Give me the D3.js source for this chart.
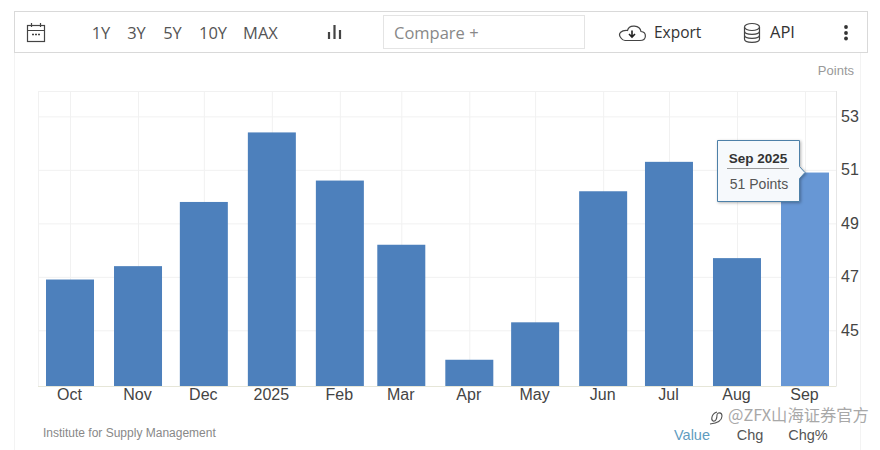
<!DOCTYPE html>
<html>
<head>
<meta charset="utf-8">
<script src="https://d3js.org/d3.v7.min.js"></script>
<style>
  html, body { margin: 0; padding: 0; background: #fff; }
  svg { display: block; }
  text { font-family: "Liberation Sans", Arial, sans-serif; }
  .btn { font-family: "Open Sans", sans-serif; font-size: 16.5px; fill: #555; }
  .domain { display: none; }
  .tick line { stroke: #f1f1f1; }
  .axis-label { font-size: 16px; fill: #444; }
</style>
</head>
<body>
<div id="chart"></div>
<script>
var months = ["2024-10-01","2024-11-01","2024-12-01","2025-01-01","2025-02-01","2025-03-01",
              "2025-04-01","2025-05-01","2025-06-01","2025-07-01","2025-08-01","2025-09-01"];
var values = [46.9, 47.4, 49.8, 52.4, 50.6, 48.2, 43.9, 45.3, 50.2, 51.3, 47.7, 50.9];
var monthLabels = ["Oct","Nov","Dec","2025","Feb","Mar","Apr","May","Jun","Jul","Aug","Sep"];
var yTicks = [45, 47, 49, 51, 53];
var rangeButtons = ["1Y","3Y","5Y","10Y","MAX"];
var rangeButtonX = [101, 136.5, 172.5, 213, 260.5];
var tabs = ["Value","Chg","Chg%"];
var tabX = [692, 750, 808];

var parseDate = d3.timeParse("%Y-%m-%d");
var dates = months.map(parseDate);
var data = dates.map(function (d, i) { return {date: d, value: values[i]}; });

var svg = d3.select("#chart").append("svg").attr("width", 880).attr("height", 450);

// drop shadow for the tooltip
var shadow = svg.append("defs").append("filter").attr("id", "shadow")
  .attr("x", "-20%").attr("y", "-20%").attr("width", "140%").attr("height", "140%");
shadow.append("feDropShadow").attr("dx", 1).attr("dy", 1).attr("stdDeviation", 1.5)
  .attr("flood-color", "#000").attr("flood-opacity", 0.3);

// panel and toolbar frames
svg.append("path").attr("d", "M14.5 52V450M860.5 52V450").attr("stroke", "#f3f3f3").attr("fill", "none");
svg.append("rect").attr("x", 14.5).attr("y", 11.5).attr("width", 853).attr("height", 41)
  .attr("fill", "#fff").attr("stroke", "#d9d9d9");
svg.append("rect").attr("x", 383.5).attr("y", 15.5).attr("width", 201).attr("height", 33)
  .attr("fill", "#fff").attr("stroke", "#e4e4e4");

// plot
var left = 38, right = 836, top_ = 91, bottom = 386;

var x = d3.scaleTime()
  .domain([dates[0], dates[dates.length - 1]])
  .range([70, 805]);

var y = d3.scaleLinear()
  .domain([42.9, 53.93])
  .range([bottom + 0.5, top_ + 0.5]);

var barWidth = 48;

svg.append("rect").attr("x", left + 0.5).attr("y", top_ + 0.5)
  .attr("width", right - left).attr("height", bottom - top_)
  .attr("fill", "none").attr("stroke", "#f1f1f1");

var xAxis = d3.axisBottom(x)
  .tickValues(dates)
  .tickSize(-(bottom - top_))
  .tickFormat(function (d, i) { return monthLabels[i]; });

var yAxis = d3.axisRight(y)
  .tickValues(yTicks)
  .tickSize(-(right - left))
  .tickPadding(5);

var gx = svg.append("g").attr("transform", "translate(0," + bottom + ")").call(xAxis);
gx.selectAll("text").attr("class", "axis-label").attr("dy", "0.71em").attr("y", 2.5).attr("x", -1);

var gy = svg.append("g").attr("transform", "translate(" + right + ",0)").call(yAxis);
gy.selectAll("text").attr("class", "axis-label");

svg.append("line").attr("x1", left).attr("x2", right).attr("y1", bottom + 0.5).attr("y2", bottom + 0.5)
  .attr("stroke", "#e6e6d8");
svg.append("line").attr("x1", right + 0.5).attr("x2", right + 0.5).attr("y1", top_).attr("y2", bottom)
  .attr("stroke", "#e6e6e6");

svg.selectAll(".bar")
  .data(data)
  .enter()
  .append("rect")
  .attr("class", "bar")
  .attr("x", function (d) { return x(d.date) - barWidth / 2; })
  .attr("y", function (d) { return y(d.value); })
  .attr("width", barWidth)
  .attr("height", function (d) { return bottom - y(d.value); })
  .attr("fill", function (d, i) { return i === data.length - 1 ? "#6797d5" : "#4d80bc"; });

// toolbar text
svg.selectAll(".range")
  .data(rangeButtons)
  .enter()
  .append("text")
  .attr("class", "btn")
  .attr("x", function (d, i) { return rangeButtonX[i]; })
  .attr("y", 39)
  .attr("text-anchor", "middle")
  .text(function (d) { return d; });

svg.append("text").attr("class", "btn").attr("x", 394).attr("y", 38.5)
  .style("font-size", "16.5px").style("fill", "#888").text("Compare +");
svg.append("text").attr("class", "btn").attr("x", 654).attr("y", 38)
  .style("font-size", "15.5px").style("fill", "#333").text("Export");
svg.append("text").attr("class", "btn").attr("x", 770).attr("y", 38)
  .style("font-size", "16.5px").style("fill", "#333").text("API");

// toolbar icons
var icons = svg.append("g").attr("fill", "none").attr("stroke", "#444").attr("stroke-width", 1.2);
// calendar
icons.append("rect").attr("x", 27.5).attr("y", 25.5).attr("width", 17).attr("height", 16);
icons.append("path").attr("d", "M27.5 30.5H44.5M31.5 23V27M40.5 23V27");
icons.append("path").attr("d", "M32 34.5H34M35 34.5H37M38 34.5H40").attr("stroke-width", 1.4);
// chart type
icons.append("path").attr("d", "M329 32V39M334.5 25V39M340 30V39").attr("stroke-width", 2.2);
// cloud with arrow
icons.append("path").attr("d", "M625 40.5H640C647 40.5 647 32 641 31.5C640 25 629 24 627.5 30.5C622 30 617 33 621 38C622 39.5 623 40.5 625 40.5Z");
icons.append("path").attr("d", "M632 30.5V36M629 34L632 37L635 34").attr("stroke", "#222").attr("stroke-width", 1.6);
// database
icons.append("ellipse").attr("cx", 752).attr("cy", 27).attr("rx", 7.5).attr("ry", 3.5);
icons.append("path").attr("d", "M744.5 27V39C744.5 43.5 759.5 43.5 759.5 39V27M744.5 31C744.5 35.5 759.5 35.5 759.5 31M744.5 35C744.5 39.5 759.5 39.5 759.5 35");
// three dots
svg.selectAll(".dot")
  .data([27, 33, 38.5])
  .enter()
  .append("circle")
  .attr("cx", 846)
  .attr("cy", function (d) { return d; })
  .attr("r", 1.9)
  .attr("fill", "#333");

svg.append("text").attr("x", 854).attr("y", 75).attr("text-anchor", "end")
  .style("font-size", "13px").style("fill", "#999").text("Points");

svg.append("text").attr("x", 43).attr("y", 437)
  .style("font-size", "12px").style("fill", "#888").text("Institute for Supply Management");

svg.selectAll(".tab")
  .data(tabs)
  .enter()
  .append("text")
  .attr("class", "tab")
  .attr("x", function (d, i) { return tabX[i]; })
  .attr("y", 439.5)
  .attr("text-anchor", "middle")
  .style("font-size", "14.5px")
  .style("fill", function (d, i) { return i === 0 ? "#5f9cc0" : "#555"; })
  .text(function (d) { return d; });

// tooltip on the last bar
var last = data[data.length - 1];
var tipX = x(last.date), tipY = y(last.value);
var tip = svg.append("g");
tip.append("path")
  .attr("d", "M717.5 140.5H799.5V" + (tipY - 6) + "L" + tipX + " " + tipY + "L799.5 " + (tipY + 6) + "V201.5H717.5Z")
  .attr("fill", "#f6f9fc")
  .attr("stroke", "#4d80a8")
  .attr("filter", "url(#shadow)");
tip.append("text").attr("x", 758).attr("y", 163).attr("text-anchor", "middle")
  .style("font-size", "13.5px").style("font-weight", "bold").style("fill", "#333").text("Sep 2025");
tip.append("line").attr("x1", 727).attr("x2", 789).attr("y1", 168.5).attr("y2", 168.5).attr("stroke", "#999");
tip.append("text").attr("x", 759).attr("y", 189).attr("text-anchor", "middle")
  .style("font-size", "14px").style("fill", "#555").text("51 Points");

// watermark
svg.append("text").attr("x", 728).attr("y", 421)
  .style("font-family", '"Noto Sans CJK SC", sans-serif')
  .style("font-size", "16.3px")
  .style("fill", "#a8a8a8")
  .text("@ZFX山海证券官方");
svg.append("path").attr("d", "M717 412C711 414 711 420 713 421C716 422 717 418 717 415C717 412 722 412 722 416C722 420 718 423 710 424")
  .attr("fill", "none").attr("stroke", "#555").attr("stroke-width", 1.1);
</script>
</body>
</html>
